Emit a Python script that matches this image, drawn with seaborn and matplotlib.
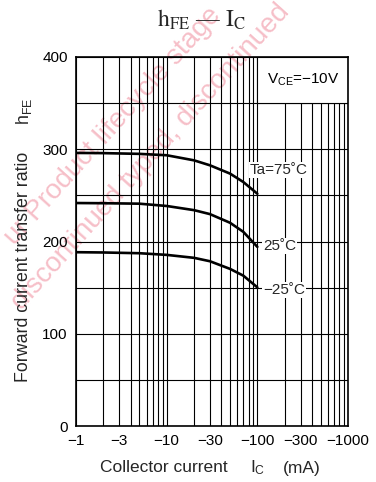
import numpy as np
import pandas as pd
import matplotlib
matplotlib.use("Agg")
import matplotlib.pyplot as plt
import seaborn as sns
from matplotlib.patches import Rectangle
from matplotlib.ticker import LogLocator, NullFormatter, MultipleLocator

# ---- data ----
ic_ma = [1, 2, 5, 10, 20, 30, 50, 70, 100]
hfe_75 = [296, 295.8, 295, 293.5, 288, 282.6, 273.6, 264.5, 251.8]
hfe_25 = [241.7, 241.5, 241, 238.5, 234, 229.7, 220.3, 210.5, 194.2]
hfe_m25 = [188.4, 188.1, 187.3, 185.5, 182.3, 178.6, 170.3, 163, 150.3]
temp_labels = ["Ta=75˚C", "25˚C", "−25˚C"]
x_ticks = [1, 3, 10, 30, 100, 300, 1000]
x_tick_labels = ["−1", "−3", "−10", "−30", "−100", "−300", "−1000"]
y_ticks = [0, 100, 200, 300, 400]

sns.set_theme(style="white")
plt.rcParams["font.family"] = ["Liberation Sans", "DejaVu Sans"]
plt.rcParams["mathtext.fontset"] = "custom"
plt.rcParams["mathtext.rm"] = "Liberation Sans"
plt.rcParams["mathtext.it"] = "Liberation Sans:italic"
plt.rcParams["mathtext.bf"] = "Liberation Sans:bold"

W, H = 376, 482
fig = plt.figure(figsize=(W / 100, H / 100), dpi=100)
fig.patch.set_facecolor("white")

def fx(px):
    return px / W

def fy(py):
    return 1 - py / H

ax = fig.add_axes([fx(76), fy(426), (348 - 76) / W, (426 - 57) / H])
ax.patch.set_alpha(0)

df = pd.DataFrame({
    "ic": ic_ma * 3,
    "hfe": hfe_75 + hfe_25 + hfe_m25,
    "ta": [temp_labels[0]] * len(ic_ma) + [temp_labels[1]] * len(ic_ma) + [temp_labels[2]] * len(ic_ma),
})
sns.lineplot(data=df, x="ic", y="hfe", hue="ta", palette=["black"] * 3,
             linewidth=1.9, legend=False, ax=ax, zorder=3)

ax.set_xscale("log")
ax.set_xlim(1, 1000)
ax.set_ylim(0, 400)
ax.set_xticks(x_ticks)
ax.set_xticklabels(x_tick_labels)
ax.xaxis.set_minor_locator(LogLocator(base=10, subs=np.arange(2, 10)))
ax.xaxis.set_minor_formatter(NullFormatter())
ax.set_yticks(y_ticks)
ax.yaxis.set_minor_locator(MultipleLocator(50))
ax.grid(which="both", color="black", linewidth=0.8)
ax.set_axisbelow(True)
ax.tick_params(which="both", length=0, labelsize=11, pad=6, colors="black")
ax.set_xlabel("")
ax.set_ylabel("")
for s in ax.spines.values():
    s.set_color("black")
    s.set_linewidth(1.2)

# white box for condition text
ax.add_patch(Rectangle((100, 350), 900, 50, facecolor="white", edgecolor="black",
                       linewidth=0.8, zorder=2))
ax.text(127.6, 375, r"$\mathregular{V_{CE}}$=−10V", fontsize=11, va="center",
        ha="left", color="black", zorder=4)

bb = dict(facecolor="white", edgecolor="none", pad=0.6)
ax.text(82.8, 277.5, temp_labels[0], fontsize=11, va="center", ha="left", bbox=bb, zorder=4)
ax.text(116, 195, temp_labels[1], fontsize=11, va="center", ha="left", bbox=bb, zorder=4)
ax.text(116, 147.4, temp_labels[2], fontsize=11, va="center", ha="left", bbox=bb, zorder=4)

# title
fig.text(fx(201), fy(27), r"$\mathrm{h_{FE}}$ — $\mathrm{I_C}$", fontsize=17,
         family=["Liberation Serif"], math_fontfamily="stix", ha="center", va="baseline")

# axis labels
fig.text(fx(100), fy(468), "Collector current", fontsize=12.5, ha="left", va="center")
fig.text(fx(250), fy(468), r"$\mathregular{I_C}$", fontsize=12.5, ha="left", va="center")
fig.text(fx(283), fy(468), "(mA)", fontsize=12.5, ha="left", va="center")
fig.text(fx(24), fy(382), "Forward current transfer ratio", fontsize=12.8, rotation=90,
         ha="center", va="bottom")
fig.text(fx(24), fy(125), r"$\mathregular{h_{FE}}$", fontsize=12.8, rotation=90,
         ha="center", va="bottom")

# faint watermark (visible parts only)
wm = "#f6bfc8"
fig.text(fx(222), fy(16), "ur Product lifecycle stage",
         fontsize=20, color=wm, rotation=48, rotation_mode="anchor", ha="right",
         va="baseline", zorder=-5)
fig.text(fx(290), fy(12), "discontinued typed, discontinued",
         fontsize=20, color=wm, rotation=48, rotation_mode="anchor", ha="right",
         va="baseline", zorder=-5)

fig.savefig("out.png", dpi=100)
